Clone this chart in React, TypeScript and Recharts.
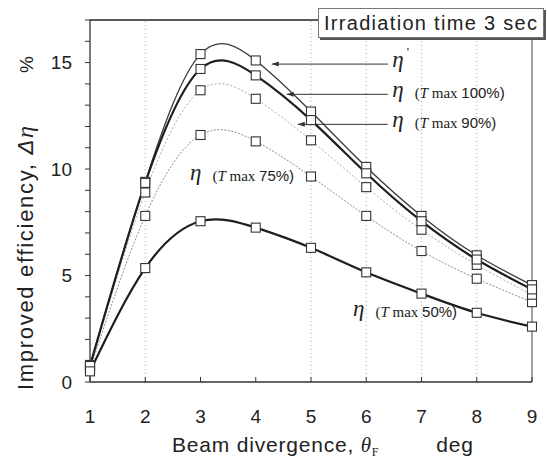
import React from "react";
import {
  LineChart,
  Line,
  XAxis,
  YAxis,
  ReferenceLine,
  ReferenceDot,
} from "recharts";

// beam divergence (deg) and improved efficiency (%) per curve
const divergence = [1, 2, 3, 4, 5, 6, 7, 8, 9];
const etaPrime = [0.8, 9.4, 15.4, 15.1, 12.7, 10.1, 7.8, 5.95, 4.55];
const eta100 = [0.75, 9.35, 14.7, 14.4, 12.3, 9.8, 7.55, 5.75, 4.35];
const eta90 = [0.7, 8.9, 13.7, 13.3, 11.35, 9.15, 7.15, 5.5, 4.1];
const eta75 = [0.6, 7.8, 11.6, 11.3, 9.65, 7.8, 6.15, 4.85, 3.75];
const eta50 = [0.5, 5.35, 7.55, 7.25, 6.3, 5.15, 4.15, 3.25, 2.6];

const xTicks = [1, 2, 3, 4, 5, 6, 7, 8, 9];
const yTicks = [0, 1, 2, 3, 4, 5, 6, 7, 8, 9, 10, 11, 12, 13, 14, 15, 16, 17];
const gridX = [2, 5, 6, 7, 8];

const rows = divergence.map((x, i) => ({
  x,
  etaPrime: etaPrime[i],
  eta100: eta100[i],
  eta90: eta90[i],
  eta75: eta75[i],
  eta50: eta50[i],
}));

// callouts with a leader line (data coords)
const leaders = [
  { id: "prime", x1: 4.29, x2: 6.39, y: 14.93, tx: 6.47, ty: 14.79, tmax: "", prime: true },
  { id: "t100", x1: 4.56, x2: 6.39, y: 13.51, tx: 6.47, ty: 13.38, tmax: "100", prime: false },
  { id: "t90", x1: 4.76, x2: 6.39, y: 12.1, tx: 6.47, ty: 11.97, tmax: "90", prime: false },
];
// free-standing callouts
const tags = [
  { id: "t75", tx: 2.81, ty: 9.48, tmax: "75" },
  { id: "t50", tx: 5.76, ty: 3.1, tmax: "50" },
];

const SANS = "'Liberation Sans', Arial, Helvetica, sans-serif";
const SERIF = "'Liberation Serif', 'Times New Roman', serif";

function EtaText({ cx, cy, tmax, prime }: { cx: number; cy: number; tmax?: string; prime?: boolean }) {
  return (
    <text x={cx} y={cy} fill="#222">
      <tspan fontFamily={SERIF} fontStyle="italic" fontSize={23}>η</tspan>
      {prime && (
        <tspan fontFamily={SERIF} fontSize={13} dx={3} dy={-11}>'</tspan>
      )}
      {tmax && (
        <>
          <tspan dx={11} dy={1} fontFamily={SERIF} fontSize={15}>(</tspan>
          <tspan fontFamily={SERIF} fontStyle="italic" fontSize={15}>T</tspan>
          <tspan fontFamily={SERIF} fontSize={15}> max </tspan>
          <tspan fontFamily={SANS} fontSize={15}>{tmax}%)</tspan>
        </>
      )}
    </text>
  );
}

const squareDot = (p: any) => (
  <rect
    key={`${p.dataKey}-${p.index}`}
    x={p.cx - 4.5}
    y={p.cy - 4.5}
    width={9}
    height={9}
    fill="#fff"
    stroke="#333"
    strokeWidth={1.1}
  />
);

const arrowHead = (p: any) => (
  <path
    d={`M${p.cx},${p.cy} L${p.cx + 7},${p.cy - 2.5} L${p.cx + 7},${p.cy + 2.5} Z`}
    fill="#333"
  />
);

function YTitle({ viewBox }: any) {
  const x = viewBox.x + 33;
  const y0 = viewBox.y + viewBox.height + 8;
  const yp = viewBox.y + 53;
  return (
    <g fill="#222" fontFamily={SANS}>
      <text x={x} y={y0} transform={`rotate(-90 ${x} ${y0})`} fontSize={22} letterSpacing={1.7}>
        Improved efficiency,{" "}
        <tspan fontStyle="italic">Δ</tspan>
        <tspan fontFamily={SERIF} fontStyle="italic" fontSize={24}>η</tspan>
      </text>
      <text x={x} y={yp} transform={`rotate(-90 ${x} ${yp})`} fontSize={19}>%</text>
    </g>
  );
}

function XTitle({ viewBox }: any) {
  const x = viewBox.x + 82;
  const y = viewBox.y + 70;
  return (
    <text x={x} y={y} fill="#222" fontFamily={SANS} fontSize={21} letterSpacing={0.8}>
      Beam divergence,{" "}
      <tspan fontFamily={SERIF} fontStyle="italic" fontSize={21}>θ</tspan>
      <tspan fontFamily={SERIF} fontSize={12} dy={4}>F</tspan>
      <tspan dx={57} dy={-4}>deg</tspan>
    </text>
  );
}

export default function App() {
  return (
    <div style={{ position: "absolute", left: 0, top: 0, width: 547, height: 461, background: "#fff" }}>
      <LineChart width={547} height={461} data={rows} margin={{ top: 20, right: 15, bottom: 0, left: 0 }}>
        <XAxis
          type="number"
          dataKey="x"
          domain={[1, 9]}
          ticks={xTicks}
          interval={0}
          height={79}
          tickSize={-5}
          tickMargin={33}
          tick={{ fontSize: 19, fill: "#222", fontFamily: SANS }}
          axisLine={{ stroke: "#333", strokeWidth: 1.3 }}
          tickLine={{ stroke: "#333" }}
          label={{ content: XTitle }}
        />
        <YAxis
          type="number"
          domain={[0, 17]}
          ticks={yTicks}
          interval={0}
          width={90}
          tickSize={5}
          tickMargin={13}
          tickFormatter={(v: number) => (v % 5 === 0 ? String(v) : "")}
          tick={{ fontSize: 19, fill: "#222", fontFamily: SANS }}
          axisLine={{ stroke: "#333", strokeWidth: 1.3 }}
          tickLine={{ stroke: "#333" }}
          label={{ content: YTitle }}
        />

        {gridX.map((v) => (
          <ReferenceLine key={`g${v}`} x={v} stroke="#aaa" strokeDasharray="1 3" />
        ))}
        <ReferenceLine y={17} stroke="#222" strokeWidth={1.5} />
        <ReferenceLine x={9} stroke="#444" strokeWidth={1} />

        <Line type="natural" dataKey="eta75" stroke="#8e8e8e" strokeWidth={1} strokeDasharray="2 1.5" dot={squareDot} isAnimationActive={false} />
        <Line type="natural" dataKey="eta90" stroke="#aaaaaa" strokeWidth={1} strokeDasharray="2 2" dot={squareDot} isAnimationActive={false} />
        <Line type="natural" dataKey="etaPrime" stroke="#3a3a3a" strokeWidth={1.3} dot={squareDot} isAnimationActive={false} />
        <Line type="natural" dataKey="eta100" stroke="#1e1e1e" strokeWidth={2.2} dot={squareDot} isAnimationActive={false} />
        <Line type="natural" dataKey="eta50" stroke="#1e1e1e" strokeWidth={2.2} dot={squareDot} isAnimationActive={false} />

        {leaders.map((c) => (
          <ReferenceLine
            key={`l${c.id}`}
            segment={[
              { x: c.x1, y: c.y },
              { x: c.x2, y: c.y },
            ]}
            stroke="#333"
            strokeWidth={1}
          />
        ))}
        {leaders.map((c) => (
          <ReferenceDot key={`a${c.id}`} x={c.x1} y={c.y} r={3} shape={arrowHead} />
        ))}
        {leaders.map((c) => (
          <ReferenceDot
            key={`t${c.id}`}
            x={c.tx}
            y={c.ty}
            r={1}
            shape={(p: any) => <EtaText cx={p.cx} cy={p.cy} tmax={c.tmax} prime={c.prime} />}
          />
        ))}
        {tags.map((c) => (
          <ReferenceDot
            key={`t${c.id}`}
            x={c.tx}
            y={c.ty}
            r={1}
            shape={(p: any) => <EtaText cx={p.cx} cy={p.cy} tmax={c.tmax} />}
          />
        ))}
      </LineChart>

      <div
        style={{
          position: "absolute",
          left: 318,
          top: 8,
          width: 219,
          height: 28,
          paddingLeft: 5,
          border: "1px solid #777",
          boxShadow: "2px 2px 0 #555",
          background: "#fff",
          fontFamily: SANS,
          fontSize: 20,
          letterSpacing: 1.3,
          lineHeight: "28px",
          color: "#222",
          whiteSpace: "nowrap",
        }}
      >
        Irradiation time 3 sec
      </div>
    </div>
  );
}
